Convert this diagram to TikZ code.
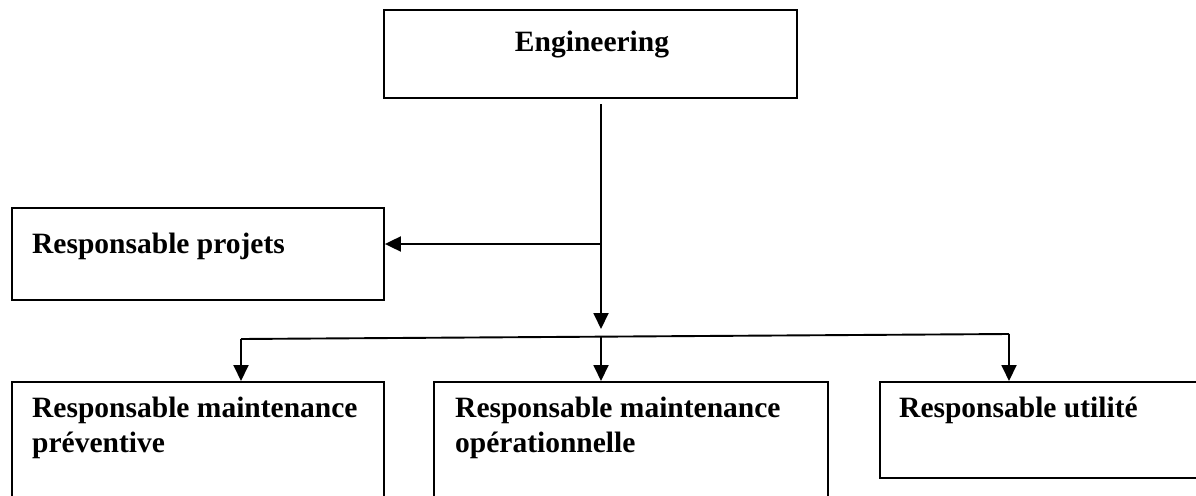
\documentclass[tikz,border=0pt]{standalone}
\usepackage{fontspec}
\setmainfont{Liberation Serif}
\usetikzlibrary{arrows.meta}

\tikzset{
  unitbox/.style={draw=black, line width=1.9pt, rectangle, inner sep=0pt, anchor=north west},
  label/.style={font=\fontsize{29.5}{35}\selectfont\bfseries, inner sep=0pt, anchor=base west},
  link/.style={draw=black, line width=1.9pt},
  arr/.style={link, -{Triangle[length=16pt,width=15pt]}},
}

\begin{document}
\begin{tikzpicture}[x=1pt,y=-1pt]
  \useasboundingbox (0,0) rectangle (1196,495);
  \clip (0,0) rectangle (1196,495);

  % boxes
  \node[unitbox, minimum width=413pt, minimum height=88pt] (eng) at (383,9) {};
  \node[unitbox, minimum width=372pt, minimum height=92pt] (proj) at (11,207) {};
  \node[unitbox, minimum width=372pt, minimum height=140pt] (prev) at (11,381) {};
  \node[unitbox, minimum width=394pt, minimum height=140pt] (oper) at (433,381) {};
  \node[unitbox, minimum width=340pt, minimum height=96pt] (util) at (879,381) {};

  % texts
  \node[label, anchor=base] (engT) at (592,52) {Engineering};
  \node[label] (projT) at (32,253) {Responsable projets};
  \node[label] (prevT1) at (32,417) {Responsable maintenance};
  \node[label] (prevT2) at (32,452) {préventive};
  \node[label] (operT1) at (455,417) {Responsable maintenance};
  \node[label] (operT2) at (455,452) {opérationnelle};
  \node[label] (utilT) at (899,417) {Responsable utilité};

  % trunk from Engineering
  \coordinate (t0) at (601,104);
  \coordinate (t1) at (601,329);
  \coordinate (pj) at (601,244);
  \draw[arr] (t0) -- (t1);
  \draw[arr] (pj) -- (pj -| proj.east);

  % distribution bus
  \coordinate (b1) at (241,339);
  \coordinate (b2) at (601,337);
  \coordinate (b3) at (1009,334);
  \draw[link] (b1) -- (b3);
  \draw[arr] (b1) -- (b1 |- prev.north);
  \draw[arr] (b2) -- (b2 |- oper.north);
  \draw[arr] (b3) -- (b3 |- util.north);
\end{tikzpicture}
\end{document}
